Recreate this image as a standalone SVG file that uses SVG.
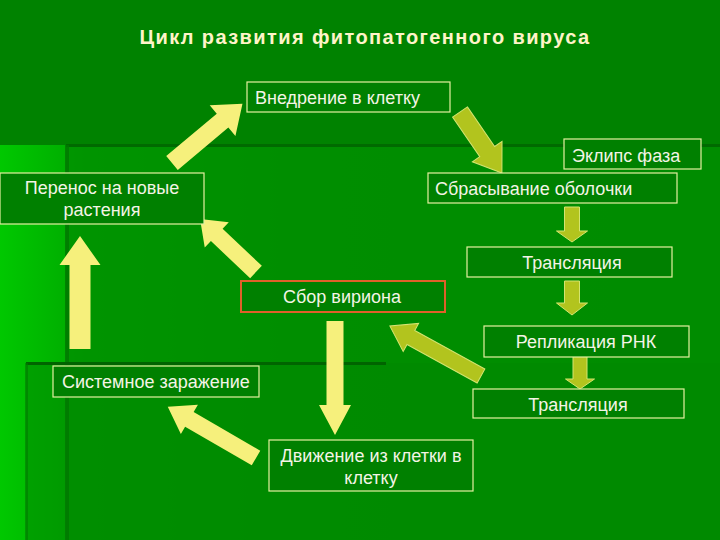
<svg xmlns="http://www.w3.org/2000/svg" width="720" height="540" viewBox="0 0 720 540">
<defs>
<linearGradient id="bg" x1="0" y1="0" x2="1" y2="0">
<stop offset="0" stop-color="#00c800"/>
<stop offset="0.12" stop-color="#00a800"/>
<stop offset="0.4" stop-color="#009400"/>
<stop offset="1" stop-color="#008c00"/>
</linearGradient>
<style>
.box{fill:#008000;stroke:#e4f0a0;stroke-width:1.2}
.red{fill:#008000;stroke:#e0602a;stroke-width:2}
.t{font-family:"Liberation Sans",Arial,sans-serif;font-size:18px;fill:#f4f4e6}
.c{text-anchor:middle}
.title{font-family:"Liberation Sans",Arial,sans-serif;font-size:20px;font-weight:bold;fill:#fff4c8;text-anchor:middle;letter-spacing:1.4px}
.y{fill:#f6f07c}
.o{fill:#b2c41e;stroke:#d4e470;stroke-width:1}
</style>
</defs>
<rect width="720" height="540" fill="url(#bg)"/>
<rect x="0" y="0" width="720" height="145" fill="#008200"/>
<rect x="66" y="145" width="654" height="395" fill="#008c00" opacity="0.7"/>
<rect x="26" y="363" width="694" height="177" fill="#008800" opacity="0.55"/>
<rect x="66" y="144" width="654" height="3" fill="#006a00"/>
<rect x="65" y="145" width="4" height="395" fill="#007800" opacity="0.8"/>
<rect x="26" y="362" width="360" height="3" fill="#006400"/>
<rect x="25" y="363" width="3" height="177" fill="#007a00" opacity="0.6"/>

<text class="title" x="365" y="44">Цикл развития фитопатогенного вируса</text>

<g id="connectors">
<polygon class="y" points="0,-9 66,-9 66,-20 92,0 66,20 66,9 0,9" transform="translate(172,163) rotate(-40)"/>
<polygon class="o" points="0,-9 48,-9 48,-18 74,0 48,18 48,9 0,9" transform="translate(460,112) rotate(55.5)"/>
<polygon class="o" points="0,-7.5 24,-7.5 24,-15.5 35,0 24,15.5 24,7.5 0,7.5" transform="translate(572,207) rotate(90)"/>
<polygon class="o" points="0,-7.5 22,-7.5 22,-15.5 34,0 22,15.5 22,7.5 0,7.5" transform="translate(572,281) rotate(90)"/>
<polygon class="o" points="0,-7 23,-7 23,-14.5 33,0 23,14.5 23,7 0,7" transform="translate(580,356) rotate(90)"/>
<polygon class="o" points="0,-8 80,-8 80,-16 104,0 80,16 80,8 0,8" transform="translate(481,376) rotate(208.8)"/>
<polygon class="y" points="0,-8.5 54,-8.5 54,-17.5 77,0 54,17.5 54,8.5 0,8.5" transform="translate(256,272) rotate(223.4)"/>
<polygon class="y" points="0,-10.5 84,-10.5 84,-20.5 113,0 84,20.5 84,10.5 0,10.5" transform="translate(80,349) rotate(-90)"/>
<polygon class="y" points="0,-8.5 84,-8.5 84,-16 114,0 84,16 84,8.5 0,8.5" transform="translate(335,321) rotate(90)"/>
<polygon class="y" points="0,-8.5 77,-8.5 77,-17 102,0 77,17 77,8.5 0,8.5" transform="translate(256,458) rotate(210.1)"/>
</g>

<g id="n-vnedrenie"><rect class="box" x="247" y="82" width="203" height="30"/><text class="t" x="255" y="104">Внедрение в клетку</text></g>
<g id="n-eklips"><rect class="box" x="564" y="139" width="137" height="30"/><text class="t" x="572" y="162">Эклипс фаза</text></g>
<g id="n-perenos"><rect class="box" x="0" y="173" width="204" height="51"/><text class="t c" x="102" y="194">Перенос на новые</text><text class="t c" x="102" y="216">растения</text></g>
<g id="n-sbrasyvanie"><rect class="box" x="428" y="173" width="249" height="30"/><text class="t" x="435" y="195">Сбрасывание оболочки</text></g>
<g id="n-translyaciya1"><rect class="box" x="467" y="247" width="205" height="30"/><text class="t c" x="572" y="269">Трансляция</text></g>
<g id="n-sbor"><rect class="red" x="241" y="281" width="204" height="31"/><text class="t c" x="342" y="303">Сбор вириона</text></g>
<g id="n-replikaciya"><rect class="box" x="484" y="326" width="205" height="31"/><text class="t c" x="586" y="348">Репликация РНК</text></g>
<g id="n-sistemnoe"><rect class="box" x="53" y="366" width="206" height="31"/><text class="t" x="62" y="388">Системное заражение</text></g>
<g id="n-translyaciya2"><rect class="box" x="473" y="389" width="211" height="29"/><text class="t c" x="578" y="411">Трансляция</text></g>
<g id="n-dvizhenie"><rect class="box" x="269" y="440" width="204" height="51"/><text class="t c" x="371" y="462">Движение из клетки в</text><text class="t c" x="371" y="484">клетку</text></g>
</svg>
